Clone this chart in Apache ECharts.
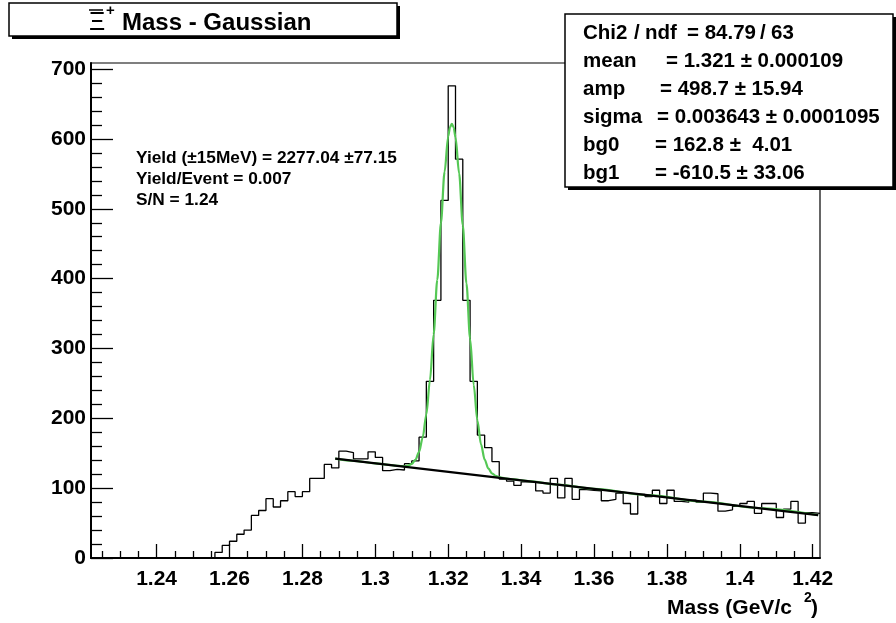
<!DOCTYPE html>
<html>
<head>
<meta charset="utf-8">
<script src="https://cdn.jsdelivr.net/npm/echarts@6/dist/echarts.min.js"></script>
<style>
html,body{margin:0;padding:0;background:#fff;}
#c{width:896px;height:623px;}
</style>
</head>
<body>
<div id="c"></div>
<script>
// ---- data ----
const xMin = 1.222;
const xMax = 1.422;
const binWidth = 0.002;
const counts = [
  0,0,0,0,0,0,0,0,0,0,
  0,0,0,0,0,0,0,8,18,24,
  34,40,61,68,85,73,82,95,88,95,
  114,114,134,129,153,151,142,142,152,144,
  125,127,126,135,139,173,253,369,512,676,
  571,369,253,176,158,138,113,110,104,109,
  109,96,93,114,86,114,84,98,97,96,
  82,84,93,78,63,91,88,97,78,97,
  81,80,83,80,93,92,67,69,74,78,
  81,64,78,78,58,70,81,50,65,64
];
// total fit (gaussian + linear background)
const fitX = [1.289,1.294,1.300,1.303,1.306,1.307,1.308,1.309,1.310,1.311,1.312,1.313,1.314,1.315,1.316,1.317,1.318,1.319,1.320,1.3205,1.321,1.3215,1.322,1.323,1.324,1.325,1.326,1.327,1.328,1.329,1.330,1.331,1.332,1.333,1.334,1.335,1.336,1.338,1.342,1.350,1.360,1.375,1.390,1.405,1.4215];
const fitY = [142.3,139.2,135.6,133.8,132.1,131.7,131.6,132.3,134.7,140.4,151.9,172.4,205.8,255.0,320.3,398.2,479.9,552.9,603.7,617.1,621.5,616.5,602.5,550.5,476.3,393.3,314.2,247.7,197.2,162.6,140.9,128.2,121.3,117.7,115.7,114.6,113.8,112.5,110.1,105.2,99.1,90.0,80.8,71.6,61.5];
// background line
const bgX = [1.289, 1.4215];
const bgY = [142.4, 61.5];
// axes
const yMax = 708.75;
const xTickValues = [1.24,1.26,1.28,1.30,1.32,1.34,1.36,1.38,1.40,1.42];
const xTickLabels = ['1.24','1.26','1.28','1.3','1.32','1.34','1.36','1.38','1.4','1.42'];
const yTickValues = [0,100,200,300,400,500,600,700];
const yTickLabels = ['0','100','200','300','400','500','600','700'];
const titleText = 'Mass - Gaussian';
const statsLines = [
  ['mean', '= 1.321 \u00b1 0.000109'],
  ['amp', '= 498.7 \u00b1 15.94'],
  ['sigma', '= 0.003643 \u00b1 0.0001095'],
  ['bg0', '= 162.8 \u00b1  4.01'],
  ['bg1', '= -610.5 \u00b1 33.06']
];
const annotLines = ['Yield (\u00b115MeV) = 2277.04 \u00b177.15', 'Yield/Event = 0.007', 'S/N = 1.24'];

// ---- build ----
const FF = 'Liberation Sans, Arial, Helvetica, sans-serif';
const histData = counts.map((c, i) => [+(xMin + i * binWidth).toFixed(4), c]);
histData.push([xMax, counts[counts.length - 1]]);
const fitData = fitX.map((x, i) => [x, fitY[i]]);
const bgData = bgX.map((x, i) => [x, bgY[i]]);

const xMinor = [];
for (let k = 0; k <= 40; k++) {
  const v = +(1.22 + k * 0.005).toFixed(4);
  if (v > xMin && v < xMax && xTickValues.indexOf(v) < 0) xMinor.push(v);
}
const yMinor = [];
for (let v = 20; v < yMax; v += 20) if (v % 100 !== 0) yMinor.push(v);

function lookup(vals, labels, v) {
  let best = 0;
  for (let i = 0; i < vals.length; i++) if (Math.abs(vals[i] - v) < Math.abs(vals[best] - v)) best = i;
  return labels[best];
}

const grid = {left: 91, right: 76, top: 63, bottom: 65, show: true, borderColor: '#000', borderWidth: 1.2, backgroundColor: 'transparent'};
const labelStyle = {fontSize: 21, fontWeight: 'bold', color: '#000', fontFamily: FF};

function txt(t, x, y, size, weight) {
  return {type: 'text', z: 102, style: {text: t, x: x, y: y, font: (weight || 'bold') + ' ' + size + 'px ' + FF, fill: '#000', verticalAlign: 'middle', align: 'left'}};
}

const graphics = [];
// title box
graphics.push({type: 'rect', z: 100, shape: {x: 12, y: 6, width: 388, height: 33}, style: {fill: '#000'}});
graphics.push({type: 'rect', z: 101, shape: {x: 9, y: 3, width: 388, height: 33}, style: {fill: '#fff', stroke: '#000', lineWidth: 1.5}});
graphics.push({type: 'text', z: 102,
  style: {text: '\u039e', x: 89, y: 36, font: 'normal 25px ' + FF, fill: '#000', verticalAlign: 'bottom', align: 'left'}});
graphics.push({type: 'line', z: 102, shape: {x1: 89, y1: 10, x2: 103, y2: 10}, style: {stroke: '#000', lineWidth: 1.5}});
graphics.push(txt('+', 106, 11, 15));
graphics.push(txt(titleText, 122, 23, 24));
// stats box
graphics.push({type: 'rect', z: 100, shape: {x: 568, y: 17, width: 328, height: 173}, style: {fill: '#000'}});
graphics.push({type: 'rect', z: 101, shape: {x: 565, y: 14, width: 328, height: 173}, style: {fill: '#fff', stroke: '#000', lineWidth: 1.5}});
const chiY = 33;
graphics.push(txt('Chi2', 583, chiY, 20.5));
graphics.push(txt('/', 634, chiY, 20.5));
graphics.push(txt('ndf', 645, chiY, 20.5));
graphics.push(txt('= 84.79', 687, chiY, 20.5));
graphics.push(txt('/', 760, chiY, 20.5));
graphics.push(txt('63', 771, chiY, 20.5));
const valX = [666, 660, 657, 655, 655];
statsLines.forEach((ln, i) => {
  const y = chiY + (i + 1) * 28.1;
  graphics.push(txt(ln[0], 583, y, 20.5));
  graphics.push(txt(ln[1], valX[i], y, 20.5));
});
// annotations
annotLines.forEach((t, i) => graphics.push(txt(t, 136, 158 + i * 21, 17.3)));
// x axis title
graphics.push(txt('Mass (GeV/c', 667, 608, 21));
graphics.push(txt('2', 804, 598, 14));
graphics.push(txt(')', 811, 608, 21));

const option = {
  animation: false,
  backgroundColor: '#fff',
  grid: grid,
  xAxis: [
    {type: 'value', min: xMin, max: xMax, position: 'bottom',
     axisLine: {show: true, onZero: false, lineStyle: {color: '#000', width: 2}},
     axisTick: {show: true, inside: true, length: 14, customValues: xTickValues, lineStyle: {color: '#000', width: 1.3}},
     axisLabel: Object.assign({show: true, margin: 11, customValues: xTickValues, formatter: v => lookup(xTickValues, xTickLabels, v)}, labelStyle),
     splitLine: {show: false}},
    {type: 'value', min: xMin, max: xMax, position: 'bottom',
     axisLine: {show: false},
     axisTick: {show: true, inside: true, length: 7, customValues: xMinor, lineStyle: {color: '#000', width: 1.3}},
     axisLabel: {show: false}, splitLine: {show: false}}
  ],
  yAxis: [
    {type: 'value', min: 0, max: yMax, position: 'left',
     axisLine: {show: true, onZero: false, lineStyle: {color: '#000', width: 2}},
     axisTick: {show: true, inside: true, length: 22, customValues: yTickValues, lineStyle: {color: '#000', width: 1.3}},
     axisLabel: Object.assign({show: true, margin: 5, customValues: yTickValues, formatter: v => lookup(yTickValues, yTickLabels, v)}, labelStyle),
     splitLine: {show: false}},
    {type: 'value', min: 0, max: yMax, position: 'left',
     axisLine: {show: false},
     axisTick: {show: true, inside: true, length: 11, customValues: yMinor, lineStyle: {color: '#000', width: 1.3}},
     axisLabel: {show: false}, splitLine: {show: false}}
  ],
  series: [
    {type: 'line', name: 'hist', data: histData, step: 'end', symbol: 'none', xAxisIndex: 0, yAxisIndex: 0,
     lineStyle: {color: '#000', width: 1.3}, z: 2},
    {type: 'line', name: 'fit', data: fitData, smooth: 0.3, smoothMonotone: 'x', symbol: 'none', xAxisIndex: 0, yAxisIndex: 0,
     lineStyle: {color: '#55c855', width: 2.2}, z: 3},
    {type: 'line', name: 'bg', data: bgData, symbol: 'none', xAxisIndex: 0, yAxisIndex: 0,
     lineStyle: {color: '#000', width: 2.2}, z: 4}
  ],
  graphic: graphics
};
const chart = echarts.init(document.getElementById('c'), null, {renderer: 'canvas'});
chart.setOption(option);
</script>
</body>
</html>
